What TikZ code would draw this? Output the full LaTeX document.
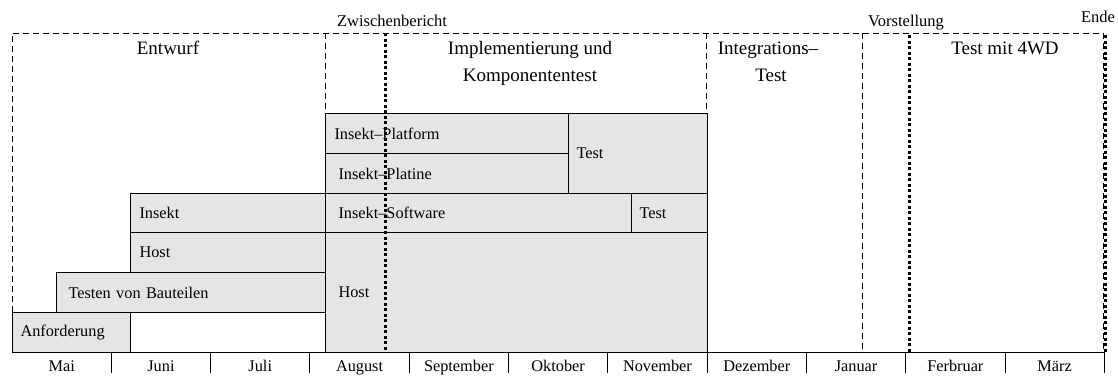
\documentclass[tikz,border=0pt]{standalone}
\usepackage{fontspec}
\setmainfont{Liberation Serif}
\newcommand\lblfont{\fontsize{16.3}{18}\selectfont}
\newcommand\ttlfont{\fontsize{19}{27}\selectfont}
\newcommand\mrkfont{\fontsize{16.5}{18}\selectfont}
\begin{document}
\begin{tikzpicture}[x=1pt,y=-1pt,
  bar/.style={draw, line width=1pt, fill=black!10, anchor=north west, inner ysep=0pt, align=left, font=\lblfont},
  frame/.style={line width=1pt, dash pattern=on 6pt off 4pt},
  milestone/.style={line width=3pt, dash pattern=on 3pt off 2.5pt},
  title/.style={font=\ttlfont, align=center, inner sep=0pt},
  marker/.style={font=\mrkfont, inner sep=0pt, anchor=base},
  month/.style={font=\lblfont, inner sep=0pt, anchor=base},
  axisline/.style={line width=1pt}]
\useasboundingbox (0,0) rectangle (1118,376);

% phase frame
\coordinate (ftl) at (12,33);
\coordinate (ftr) at (1104,33);
\coordinate (fbl) at (12,312);
\draw[frame] (fbl) -- (ftl) -- (ftr);
\draw[frame] (325,33) -- (325,113);
\draw[frame] (706,33) -- (706,113);
\draw[frame] (862,33) -- (862,350);
\draw[frame] (1103,33) -- (1103,352);

% bars
\node[bar, inner xsep=9pt, text width=225pt, minimum height=40pt] (pf) at (325,113) {Insekt–Platform};
\node[bar, inner xsep=13pt, text width=217pt, minimum height=40pt] (pl) at (325,153) {Insekt–Platine};
\node[bar, inner xsep=8pt, text width=123pt, minimum height=80pt] (t1) at (568,113) {Test};
\node[bar, inner xsep=13pt, text width=280pt, minimum height=39pt] (sw) at (325,193) {Insekt–Software};
\node[bar, inner xsep=8pt, text width=60pt, minimum height=39pt] (t2) at (631,193) {Test};
\node[bar, inner xsep=9pt, text width=177pt, minimum height=39pt] (ins) at (130,193) {Insekt};
\node[bar, inner xsep=9pt, text width=177pt, minimum height=40pt] (hst) at (130,232) {Host};
\node[bar, inner xsep=12pt, text width=245pt, minimum height=40pt] (tb) at (56,272) {Testen von Bauteilen};
\node[bar, inner xsep=8pt, text width=102pt, minimum height=40pt] (anf) at (12,312) {Anforderung};
\node[bar, inner xsep=13pt, text width=356pt, minimum height=120pt] (hb) at (325,232) {Host};

% milestones
\draw[milestone] (385,33) -- (385,352);
\draw[milestone] (909,35) -- (909,352);
\draw[milestone] (1105,35) -- (1105,352);

% phase titles
\node[title, anchor=base] (entw) at (168,54) {Entwurf};
\node[title, anchor=base] (impl) at (530,54) {Implementierung und};
\node[title, anchor=base] (impl2) at (530,81) {Komponententest};
\node[title, anchor=base] (integ) at (768,54) {Integrations–};
\node[title, anchor=base] (integ2) at (771,81) {Test};
\node[title, anchor=base] (t4wd) at (1005,54) {Test mit 4WD};

% milestone labels
\node[marker] (zb) at (392,26) {Zwischenbericht};
\node[marker] (vs) at (906,26.5) {Vorstellung};
\node[marker] (ende) at (1098,22) {Ende};

% time axis
\draw[axisline] (12,352) -- (1105,352);
\foreach \i in {1,...,11} {
  \draw[axisline] ({12+99.3*\i},352) -- ({12+99.3*\i},373);
}
\foreach \m [count=\k from 0] in {Mai,Juni,Juli,August,September,Oktober,November,Dezember,Januar,Ferbruar,März} {
  \node[month] (m\k) at ({12+99.3*(\k+0.5)},371) {\m};
}
\end{tikzpicture}
\end{document}
